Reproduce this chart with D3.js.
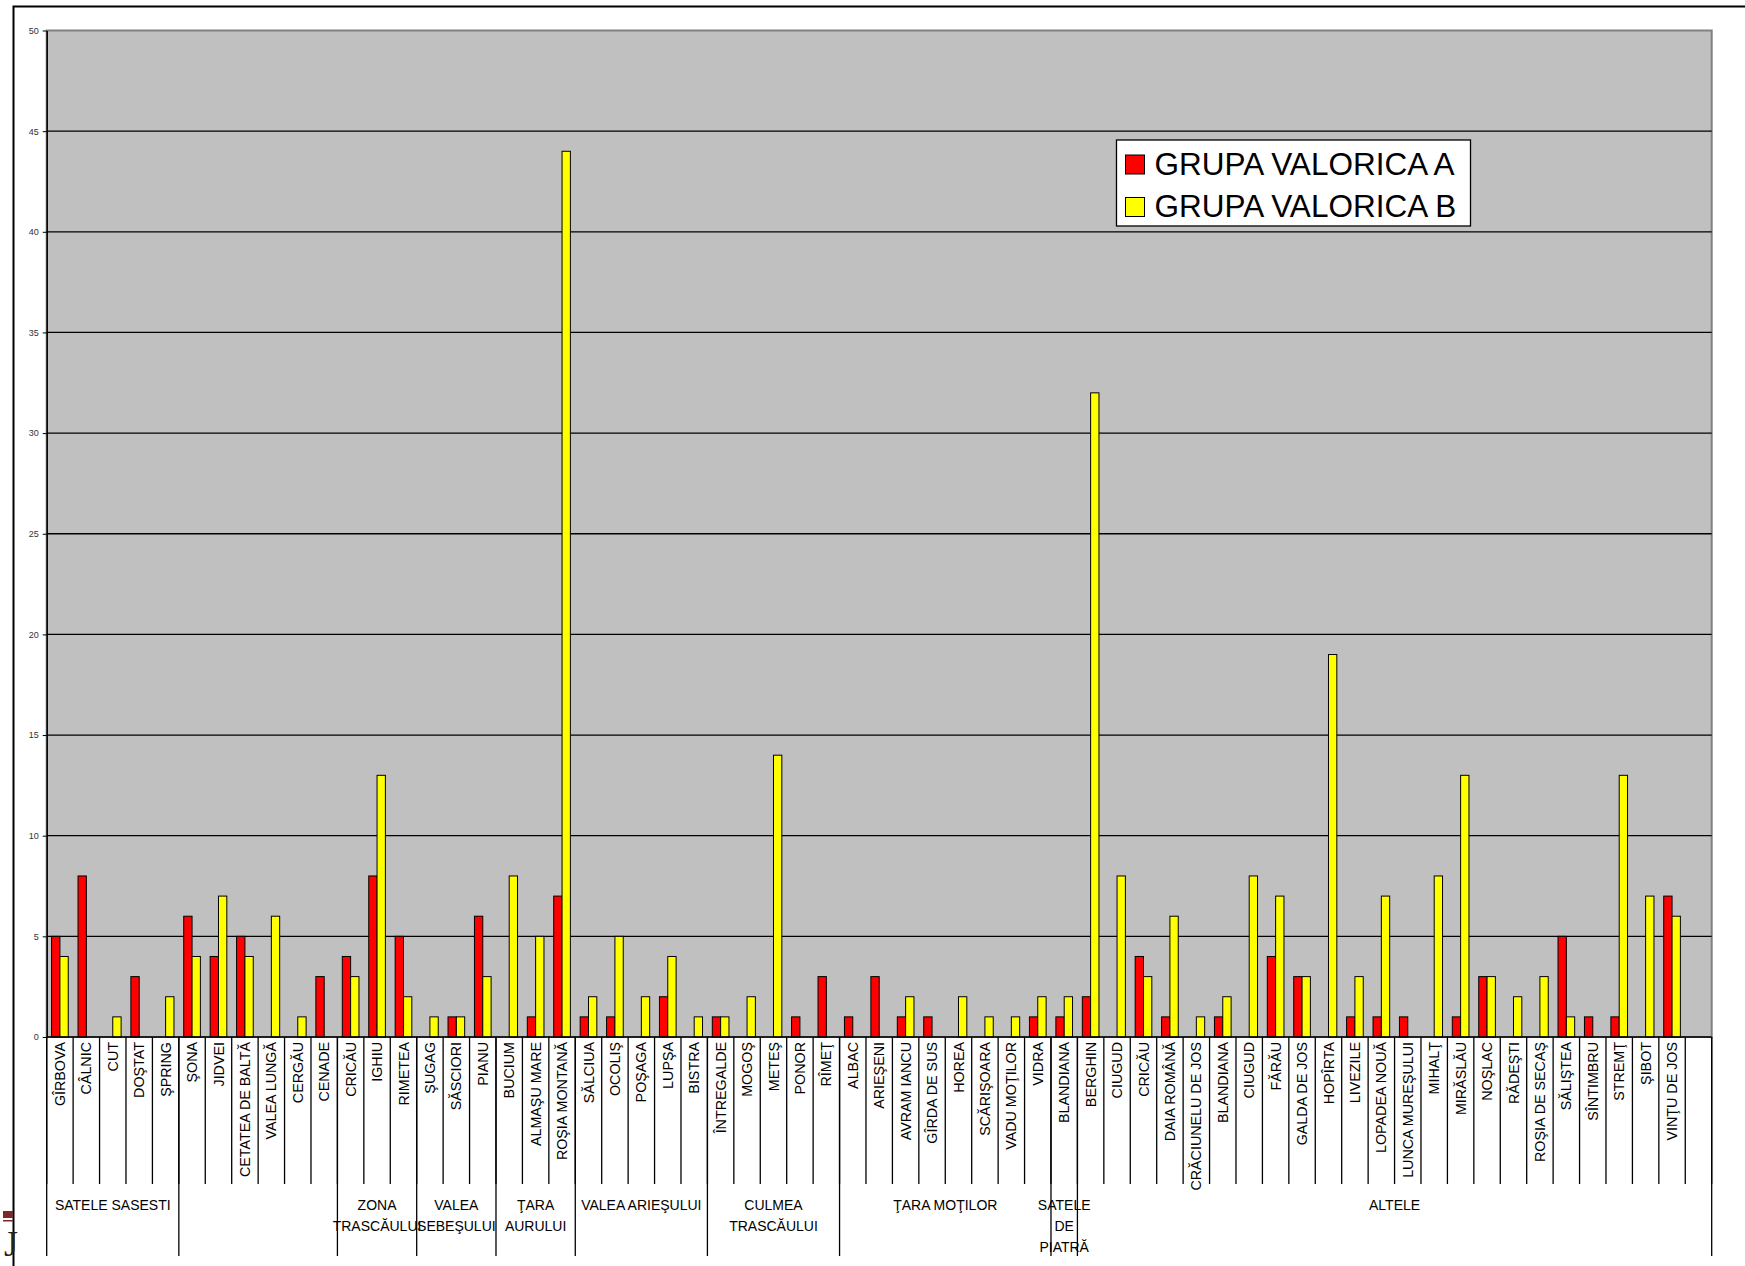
<!DOCTYPE html>
<html>
<head>
<meta charset="utf-8">
<script src="https://cdnjs.cloudflare.com/ajax/libs/d3/7.8.5/d3.min.js"></script>
<style>
    body { margin: 0; background: #fff; }
    svg { display: block; font-family: Arial, "Liberation Sans", sans-serif; }
</style>
</head>
<body>
<div class="chart-container"></div>
<script>
/* Grupa valorica A / B pe localitati
   ========================================================================== */

var villages = ["GÎRBOVA", "CÂLNIC", "CUT", "DOŞTAT", "ŞPRING",
    "ŞONA", "JIDVEI", "CETATEA DE BALTĂ", "VALEA LUNGĂ", "CERGĂU", "CENADE",
    "CRICĂU", "IGHIU", "RIMETEA",
    "ŞUGAG", "SĂSCIORI", "PIANU",
    "BUCIUM", "ALMAŞU MARE", "ROŞIA MONTANĂ",
    "SĂLCIUA", "OCOLIŞ", "POŞAGA", "LUPŞA", "BISTRA",
    "ÎNTREGALDE", "MOGOŞ", "METEŞ", "PONOR", "RÎMEŢ",
    "ALBAC", "ARIEŞENI", "AVRAM IANCU", "GÎRDA DE SUS", "HOREA", "SCĂRIŞOARA", "VADU MOŢILOR", "VIDRA",
    "BLANDIANA",
    "BERGHIN", "CIUGUD", "CRICĂU", "DAIA ROMÂNĂ", "CRĂCIUNELU DE JOS", "BLANDIANA", "CIUGUD", "FĂRĂU",
    "GALDA DE JOS", "HOPÎRTA", "LIVEZILE", "LOPADEA NOUĂ", "LUNCA MUREŞULUI", "MIHALŢ", "MIRĂSLĂU",
    "NOŞLAC", "RĂDEŞTI", "ROŞIA DE SECAŞ", "SĂLIŞTEA", "SÎNTIMBRU", "STREMŢ", "ŞIBOT", "VINŢU DE JOS", ""];

var grupaA = [5, 8, 0, 3, 0,
    6, 4, 5, 0, 0, 3,
    4, 8, 5,
    0, 1, 6,
    0, 1, 7,
    1, 1, 0, 2, 0,
    1, 0, 0, 1, 3,
    1, 3, 1, 1, 0, 0, 0, 1,
    1,
    2, 0, 4, 1, 0, 1, 0, 4,
    3, 0, 1, 1, 1, 0, 1,
    3, 0, 0, 5, 1, 1, 0, 7, 0];

var grupaB = [4, 0, 1, 0, 2,
    4, 7, 4, 6, 1, 0,
    3, 13, 2,
    1, 1, 3,
    8, 5, 44,
    2, 5, 2, 4, 1,
    1, 2, 14, 0, 0,
    0, 0, 2, 0, 2, 1, 1, 2,
    2,
    32, 8, 3, 6, 1, 2, 8, 7,
    3, 19, 3, 7, 0, 8, 13,
    3, 2, 3, 1, 0, 13, 7, 6, 0];

var zones = ["SATELE SASESTI", "", "ZONA TRASCĂULUI", "VALEA SEBEŞULUI", "ŢARA AURULUI",
    "VALEA ARIEŞULUI", "CULMEA TRASCĂULUI", "ŢARA MOŢILOR", "SATELE DE PIATRĂ", "ALTELE"];
var zoneSize = [5, 6, 3, 3, 3, 5, 5, 8, 1, 24];

var seriesNames = ["GRUPA VALORICA A", "GRUPA VALORICA B"];
var seriesColors = ["#ff0000", "#ffff00"];
var yTicks = [0, 5, 10, 15, 20, 25, 30, 35, 40, 45, 50];

// Set Margin
var margin = { top: 30.5, left: 46.7 },
    width = 1665,
    height = 1006.5;

// Set Range
var x = d3.scaleBand()
    .domain(d3.range(villages.length))
    .range([0, width])
    .padding(0);
var xs = d3.scaleBand()
    .domain([0, 1])
    .range([0, x.bandwidth()])
    .paddingInner(0)
    .paddingOuter(0.587);
var y = d3.scaleLinear()
    .domain([0, 50])
    .range([height, 0]);

var svg = d3.select('.chart-container').append("svg")
    .attr("width", 1745)
    .attr("height", 1266);

// outer chart border (runs off the page right / bottom)
svg.append("rect")
    .attr("x", 13.5).attr("y", 6.5)
    .attr("width", 1800).attr("height", 1400)
    .attr("fill", "none")
    .attr("stroke", "#000")
    .attr("stroke-width", 2);

// bits of the slide behind the chart
svg.append("rect").attr("x", 3).attr("y", 1211).attr("width", 10).attr("height", 7).attr("fill", "#7a2a2a");
svg.append("rect").attr("x", 3).attr("y", 1220).attr("width", 10).attr("height", 1.5).attr("fill", "#7a2a2a");
svg.append("text").attr("x", 4).attr("y", 1256)
    .style("font-family", "'Liberation Serif', 'DejaVu Serif', serif").style("font-size", "36px").attr("fill", "#222")
    .text("J");

var g = svg.append("g")
    .attr("transform", "translate(" + margin.left + "," + margin.top + ")");

// plot area
g.append("rect")
    .attr("width", width).attr("height", height)
    .attr("fill", "#c0c0c0")
    .attr("stroke", "#808080")
    .attr("stroke-width", 2);

// gridlines
g.selectAll(".grid")
    .data(yTicks.filter(function(d) { return d > 0 && d < 50; }))
    .enter().append("line")
    .attr("x1", 0).attr("x2", width)
    .attr("y1", function(d) { return y(d); })
    .attr("y2", function(d) { return y(d); })
    .attr("stroke", "#000")
    .attr("stroke-width", 1.3);

// bars
var rows = villages.map(function(v, i) { return { i: i, v: [grupaA[i], grupaB[i]] }; });
var cat = g.selectAll(".cat")
    .data(rows)
    .enter().append("g")
    .attr("transform", function(d) { return "translate(" + x(d.i) + ",0)"; });
cat.selectAll("rect")
    .data(function(d) { return d.v.map(function(val, s) { return { s: s, val: val }; }).filter(function(e) { return e.val > 0; }); })
    .enter().append("rect")
    .attr("x", function(d) { return xs(d.s); })
    .attr("width", xs.bandwidth())
    .attr("y", function(d) { return y(d.val); })
    .attr("height", function(d) { return height - y(d.val); })
    .attr("fill", function(d) { return seriesColors[d.s]; })
    .attr("stroke", "#000")
    .attr("stroke-width", 1);

// y axis
var yAxis = g.append("g")
    .call(d3.axisLeft(y).tickValues(yTicks).tickSize(4).tickSizeOuter(0).tickPadding(4));
yAxis.select(".domain").attr("stroke", "#000").attr("stroke-width", 1.5);
yAxis.selectAll("line").attr("stroke", "#000");
yAxis.selectAll("text").style("font-size", "9px").attr("fill", "#333");

// category axis
g.append("line")
    .attr("x1", 0).attr("x2", width)
    .attr("y1", height).attr("y2", height)
    .attr("stroke", "#000").attr("stroke-width", 1.5);

g.selectAll(".cline")
    .data(d3.range(villages.length + 1))
    .enter().append("line")
    .attr("x1", function(i) { return i * x.step(); })
    .attr("x2", function(i) { return i * x.step(); })
    .attr("y1", height).attr("y2", height + 147)
    .attr("stroke", "#000").attr("stroke-width", 1.3);

g.selectAll(".clabel")
    .data(rows)
    .enter().append("text")
    .attr("transform", function(d) { return "translate(" + (x(d.i) + x.bandwidth() / 2) + "," + (height + 5) + ") rotate(-90)"; })
    .attr("text-anchor", "end")
    .attr("dy", "0.36em")
    .style("font-size", "14.3px")
    .text(function(d) { return villages[d.i]; });

// zone groups
var starts = [0];
zoneSize.forEach(function(n, k) { starts.push(starts[k] + n); });

g.selectAll(".zline")
    .data(starts)
    .enter().append("line")
    .attr("x1", function(s) { return s * x.step(); })
    .attr("x2", function(s) { return s * x.step(); })
    .attr("y1", height).attr("y2", height + 219)
    .attr("stroke", "#000").attr("stroke-width", 1.3);

zones.forEach(function(name, k) {
    var x0 = starts[k] * x.step(),
        span = zoneSize[k] * x.step();
    var t = g.append("text")
        .attr("text-anchor", "middle")
        .style("font-size", "14px")
        .attr("x", x0 + span / 2)
        .attr("y", height + 173)
        .text(name);
    // wrap on words when wider than the zone
    if (name && t.node().getComputedTextLength() > span + 10) {
        t.text(null);
        name.split(" ").forEach(function(w, j) {
            t.append("tspan")
                .attr("x", x0 + span / 2)
                .attr("y", height + 173 + j * 21)
                .text(w);
        });
    }
});

// legend
var legend = svg.append("g")
    .attr("transform", "translate(1116.5,140)");
legend.append("rect")
    .attr("width", 354).attr("height", 86)
    .attr("fill", "#fff")
    .attr("stroke", "#000").attr("stroke-width", 1.3);
seriesNames.forEach(function(name, s) {
    legend.append("rect")
        .attr("x", 9).attr("y", 15 + s * 42.5)
        .attr("width", 19).attr("height", 19)
        .attr("fill", seriesColors[s])
        .attr("stroke", "#000").attr("stroke-width", 1);
    legend.append("text")
        .attr("x", 38).attr("y", 34.5 + s * 42.5)
        .style("font-size", "31.5px")
        .text(name);
});
</script>
</body>
</html>
